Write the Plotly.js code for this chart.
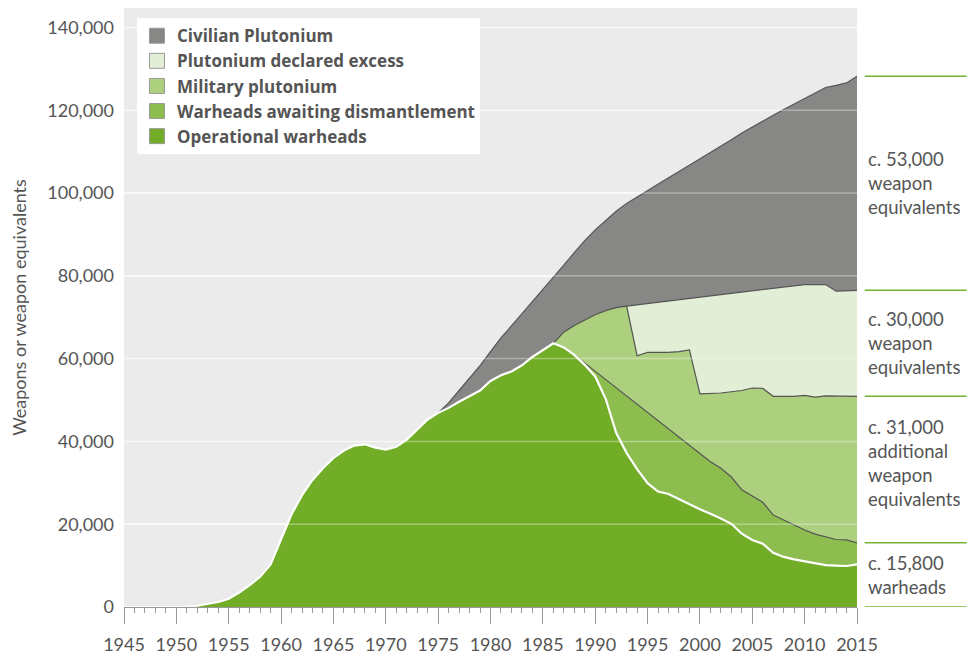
<!DOCTYPE html>
<html><head><meta charset="utf-8">
<script src="https://cdn.plot.ly/plotly-3.0.1.min.js"></script>
<style>html,body{margin:0;padding:0;background:#fff;}#chart{width:968px;height:656px;}</style>
</head><body><div id="chart"></div>
<script>
const years = [1945,1946,1947,1948,1949,1950,1951,1952,1953,1954,1955,1956,1957,1958,1959,1960,1961,1962,1963,1964,1965,1966,1967,1968,1969,1970,1971,1972,1973,1974,1975,1976,1977,1978,1979,1980,1981,1982,1983,1984,1985,1986,1987,1988,1989,1990,1991,1992,1993,1994,1995,1996,1997,1998,1999,2000,2001,2002,2003,2004,2005,2006,2007,2008,2009,2010,2011,2012,2013,2014,2015];

// Operational warheads (1945-2015)
const operational = [0,0,0,0,0,0,50,300,700,1200,2000,3500,5300,7300,10300,16300,22400,27000,30700,33500,36000,37800,39000,39300,38500,38000,38700,40400,42800,45300,46900,48100,49600,50900,52300,54600,56000,56900,58400,60400,62000,63700,62700,60900,58500,55700,50300,42100,37200,33300,29900,27900,27300,26000,24800,23600,22500,21400,20100,17700,16200,15300,13100,12100,11500,11000,10500,10100,10000,9900,10300];

// Top of "warheads awaiting dismantlement" (cumulative), from 1988
const dismantleStart = 1988;
const warheadsTotal = [60900,58900,56900,54900,52900,50900,48900,46900,44900,42900,40900,38900,36900,35100,33500,31400,28300,26700,25300,22200,21000,19700,18600,17600,16900,16300,16200,15500];

// Top of "military plutonium" (cumulative), from 1986
const militaryStart = 1986;
const militaryTotal = [63700,66400,68000,69400,70600,71600,72300,72700,60700,61500,61500,61500,61700,62100,51500,51600,51700,52000,52300,52900,52800,50900,50900,50900,51100,50700,51000,51000,50900,50900];

// Top of "plutonium declared excess" (cumulative), from 1993
const excessStart = 1993;
const excessTotal = [72700,73000,73300,73600,73900,74200,74500,74800,75100,75400,75700,76000,76300,76600,76900,77200,77600,77900,77900,77900,76300,76400,76500];

// Top of "civilian plutonium" (cumulative), from 1975
const civilianStart = 1975;
const civilianTotal = [46900,49300,52300,55300,58300,61700,65000,67900,70800,73700,76700,79500,82600,85600,88500,91100,93400,95600,97500,99100,100600,102100,103700,105200,106700,108300,109800,111400,112900,114500,116000,117400,118800,120200,121500,122700,124000,125500,126000,126600,128200];

const seriesNames = ["Civilian Plutonium","Plutonium declared excess","Military plutonium","Warheads awaiting dismantlement","Operational warheads"];
const seriesColors = ["#878786","#e2efd6","#acd07e","#8dbd4e","#72ad27"];

const yTickVals = [0,20000,40000,60000,80000,100000,120000,140000];
const xTickVals = [1945,1950,1955,1960,1965,1970,1975,1980,1985,1990,1995,2000,2005,2010,2015];

const sideLabels = ["c. 53,000<br>weapon<br>equivalents","c. 30,000<br>weapon<br>equivalents","c. 31,000<br>additional<br>weapon<br>equivalents","c. 15,800<br>warheads"];

function yrs(start, arr){ const i = years.indexOf(start); return years.slice(i, i + arr.length); }

const lineDark = "#555555";
const traces = [];
const fills = [
  {x: yrs(civilianStart, civilianTotal), y: civilianTotal, c: seriesColors[0], l: lineDark, w: 1.2},
  {x: yrs(excessStart, excessTotal), y: excessTotal, c: seriesColors[1], l: lineDark, w: 1.2},
  {x: yrs(militaryStart, militaryTotal), y: militaryTotal, c: seriesColors[2], l: lineDark, w: 1.2},
  {x: yrs(dismantleStart, warheadsTotal), y: warheadsTotal, c: seriesColors[3], l: lineDark, w: 1.2},
  {x: years, y: operational, c: seriesColors[4], l: "#ffffff", w: 2.2}
];
fills.forEach(f => traces.push({
  type: "scatter", mode: "lines", x: f.x, y: f.y, fill: "tozeroy", fillcolor: f.c,
  line: {color: f.l, width: f.w}, showlegend: false, hoverinfo: "skip"
}));
seriesNames.forEach((n, i) => traces.push({
  type: "scatter", mode: "markers", x: [null], y: [null], name: n,
  marker: {symbol: "square", size: 15, color: seriesColors[i], line: {color: "#9a9a9a", width: 1}},
  showlegend: true, hoverinfo: "skip"
}));

const last = a => a[a.length - 1];
const bounds = [last(civilianTotal), last(excessTotal), last(militaryTotal), last(warheadsTotal), 0];

const shapes = [];
yTickVals.filter(v => v > 0).forEach(v => shapes.push({
  type: "line", xref: "paper", x0: 0, x1: 1, yref: "y", y0: v, y1: v,
  line: {color: "rgba(255,255,255,0.35)", width: 1.5}, layer: "above"
}));
bounds.forEach(v => shapes.push({
  type: "line", xref: "paper", x0: 1.0105, x1: 1.1496, yref: "y", y0: v, y1: v,
  line: {color: "#72b330", width: 1.5}, layer: "above"
}));

const annShift = [0, 0, 7, 0];
const annotations = sideLabels.map((t, i) => ({
  xref: "paper", x: 1.0125, xanchor: "left", yref: "y", y: (bounds[i] + bounds[i+1]) / 2,
  yanchor: "middle", yshift: annShift[i], text: t, showarrow: false, align: "left",
  font: {family: "Lato, sans-serif", size: 18.5, color: "#555555"}
}));

const layout = {
  width: 968, height: 656,
  margin: {l: 124, r: 111, t: 8, b: 49},
  paper_bgcolor: "#ffffff", plot_bgcolor: "#ebebeb",
  font: {family: "Lato, sans-serif", size: 18, color: "#555555"},
  showlegend: true,
  legend: {
    x: 0.0177, y: 0.983, xanchor: "left", yanchor: "top",
    bgcolor: "#ffffff", borderwidth: 0,
    font: {family: "Open Sans, sans-serif", size: 17, color: "#555555", weight: "bold"},
    traceorder: "normal"
  },
  xaxis: {
    range: [1945, 2015], tickvals: xTickVals, tickformat: "d",
    ticks: "outside", ticklen: 16, tickcolor: "#999999", tickwidth: 1,
    minor: {dtick: 1, tick0: 1945, ticks: "outside", ticklen: 5, tickcolor: "#999999", tickwidth: 1, showgrid: false},
    showline: true, linecolor: "#999999", linewidth: 1, showgrid: false, zeroline: false,
    ticklabelstandoff: 5,
    tickfont: {size: 18, color: "#555555"}, fixedrange: true
  },
  yaxis: {
    range: [0, 144700], tickvals: yTickVals, tickformat: ",d",
    showgrid: true, gridcolor: "#f7f7f7", gridwidth: 1.5, zeroline: false, showline: false,
    ticks: "", ticklabelstandoff: 9,
    tickfont: {size: 18, color: "#555555"},
    title: {text: "Weapons or weapon equivalents", font: {size: 18, color: "#555555"}, standoff: 15},
    fixedrange: true
  },
  shapes: shapes,
  annotations: annotations
};

Plotly.newPlot("chart", traces, layout, {displayModeBar: false, staticPlot: true});
</script>
</body></html>
